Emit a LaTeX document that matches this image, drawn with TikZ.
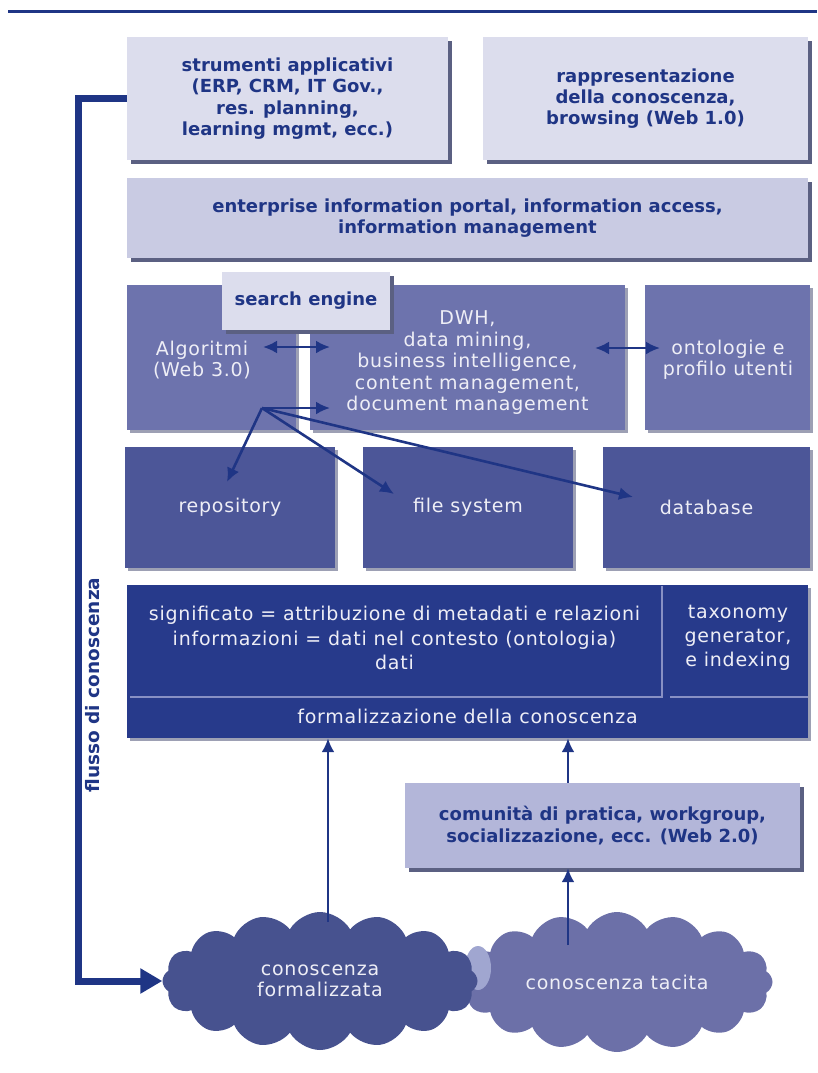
\documentclass[tikz,border=0pt]{standalone}
\usepackage{fontspec}
\setmainfont{DejaVu Sans}
\newfontfamily\spaced[LetterSpace=4]{DejaVu Sans}
\usetikzlibrary{shapes.symbols,shadows,arrows.meta}

\definecolor{navy}{HTML}{1F3585}
\definecolor{pale}{HTML}{DCDDED}
\definecolor{palemid}{HTML}{C9CBE3}
\definecolor{commfill}{HTML}{B3B6D9}
\definecolor{rowthree}{HTML}{6D73AD}
\definecolor{rowfour}{HTML}{4C5698}
\definecolor{rowfive}{HTML}{273A8B}
\definecolor{sepline}{HTML}{8890C4}
\definecolor{shadowc}{HTML}{5B6082}
\definecolor{cloudA}{HTML}{47528F}
\definecolor{cloudB}{HTML}{6C70A8}
\definecolor{textw}{HTML}{EEEEF6}

\begin{document}
\begin{tikzpicture}[x=1pt,y=-1pt,
    lbox/.style={fill=pale, text=navy, align=center, inner sep=0pt,
        font=\bfseries\fontsize{18}{21.3}\selectfont,
        drop shadow={shadow xshift=4pt, shadow yshift=-4pt, fill=shadowc, opacity=1}},
    dbox/.style={text=textw, align=center, inner sep=0pt,
        font=\spaced\fontsize{19}{21.5}\selectfont,
        drop shadow={shadow xshift=3pt, shadow yshift=-3pt, fill=shadowc, opacity=.6}},
    wtext/.style={text=textw, align=center, inner sep=0pt},
    nube/.style={cloud, cloud puffs=16, cloud puff arc=120, cloud ignores aspect,
        text=textw, align=center, font=\spaced\fontsize{19}{21}\selectfont},
    arr/.style={draw=navy, line width=2.6pt, -{Latex[length=14pt,width=13pt]}},
    darr/.style={draw=navy, line width=2.6pt, {Latex[length=14pt,width=13pt]}-{Latex[length=14pt,width=13pt]}}]
\useasboundingbox (0,0) rectangle (817,1073);

\draw[navy, line width=3pt] (8,12) -- (817,12);

% livelli superiori
\node[lbox, minimum width=321pt, minimum height=123pt] (app) at (287.5,98.5)
    {strumenti applicativi\\(ERP, CRM, IT Gov.,\\res. planning,\\learning mgmt, ecc.)};
\node[lbox, minimum width=325pt, minimum height=123pt] (rappr) at (645.5,98.5)
    {rappresentazione\\della conoscenza,\\browsing (Web 1.0)};
\node[lbox, fill=palemid, minimum width=681pt, minimum height=80pt] (portal) at (467.5,218)
    {enterprise information portal, information access,\\information management};

% strumenti
\node[dbox, fill=rowthree, minimum width=169pt, minimum height=145pt] (algo) at (211.5,357.5) {};
\node[wtext, font=\spaced\fontsize{19}{21.5}\selectfont] (algotxt) at (202,360) {Algoritmi\\(Web 3.0)};
\node[dbox, fill=rowthree, minimum width=315pt, minimum height=145pt] (dwh) at (467.5,357.5) {};
\node[wtext, font=\spaced\fontsize{19}{21.5}\selectfont] (dwhtxt) at (467.5,363)
    {DWH,\\data mining,\\business intelligence,\\content management,\\document management};
\node[dbox, fill=rowthree, minimum width=165pt, minimum height=145pt] (onto) at (727.5,357.5) {};
\node[wtext, font=\spaced\fontsize{19}{21.5}\selectfont] (ontotxt) at (728,360) {ontologie e\\profilo utenti};
\node[lbox, fill=pale, minimum width=168pt, minimum height=58pt] (search) at (306,301) {search engine};

% archivi
\node[dbox, fill=rowfour, minimum width=210pt, minimum height=121pt] (repo) at (230,507.5) {repository};
\node[dbox, fill=rowfour, minimum width=210pt, minimum height=121pt] (files) at (468,507.5) {file system};
\node[dbox, fill=rowfour, minimum width=207pt, minimum height=121pt] (db) at (706.5,507.5) {database};

% formalizzazione
\node[dbox, fill=rowfive, minimum width=681pt, minimum height=153pt] (formal) at (467.5,661.5) {};
\node[wtext, font=\spaced\fontsize{19}{21}\selectfont] (formtxt) at (467.5,716) {formalizzazione della conoscenza};
\node[wtext, font=\spaced\fontsize{19}{24.5}\selectfont] (sig) at (394.5,638)
    {significato = attribuzione di metadati e relazioni\\informazioni = dati nel contesto (ontologia)\\dati};
\node[wtext, font=\spaced\fontsize{19}{24}\selectfont] (tax) at (738,638)
    {taxonomy\\generator,\\e indexing};
\draw[sepline, line width=2pt] (130,697) -- (662,697) -- (662,586);
\draw[sepline, line width=2pt] (670,697) -- (808,697);

\node[lbox, fill=commfill, minimum width=395pt, minimum height=85pt] (comm) at (602.5,825.5)
    {comunità di pratica, workgroup,\\socializzazione, ecc. (Web 2.0)};

% nuvole
\node[nube, fill=cloudB, minimum width=311pt, minimum height=140pt] (tacita) at (617,982) {conoscenza tacita};
\fill[sepline!80] (478,968) ellipse (13 and 22);
\node[nube, fill=cloudA, minimum width=315pt, minimum height=138pt] (formalizz) at (320,981) {conoscenza\\formalizzata};

% frecce
\coordinate (fan) at (262,408);
\coordinate (dwhin) at (330,408);
\coordinate (repoin) at (227,482);
\coordinate (filesin) at (394,494);
\coordinate (dbin) at (633,497);
\draw[arr] (fan) -- (dwhin);
\draw[arr] (fan) -- (repoin);
\draw[arr] (fan) -- (filesin);
\draw[arr] (fan) -- (dbin);
\coordinate (algoin) at (263,347);
\coordinate (dwhleft) at (330,347);
\coordinate (dwhright) at (595,348);
\coordinate (ontoin) at (660,348);
\draw[darr] (algoin) -- (dwhleft);
\draw[darr] (dwhright) -- (ontoin);

\coordinate (c1top) at (328,922);
\coordinate (c2top) at (568,945);
\draw[arr] (c1top) -- (c1top |- formal.south);
\draw[arr] (c2top) -- (c2top |- comm.south);
\draw[arr] (comm.north -| c2top) -- (c2top |- formal.south);

% flusso di conoscenza
\draw[navy, line width=7pt, -{Triangle[length=22pt,width=24pt]}]
    (app.west) -- ++(-48,0) |- (formalizz.west);
\node[rotate=90, text=navy, font=\bfseries\fontsize{18.5}{20}\selectfont] (flowlab) at (93,685) {flusso di conoscenza};
\end{tikzpicture}
\end{document}
